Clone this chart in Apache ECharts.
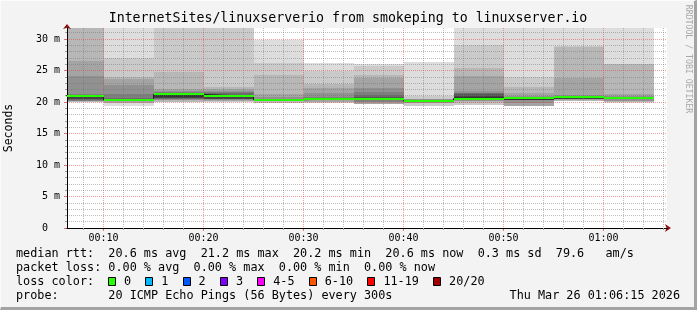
<!DOCTYPE html>
<html>
<head>
<meta charset="utf-8">
<script src="https://cdn.jsdelivr.net/npm/echarts@6.0.0/dist/echarts.min.js"></script>
<style>
html,body{margin:0;padding:0;background:#f3f3f3;}
#wrap{position:relative;width:697px;height:310px;overflow:hidden;}
#chart{position:absolute;left:0;top:0;width:697px;height:310px;}
#frame{position:absolute;left:0;top:0;width:697px;height:310px;box-sizing:border-box;border-right:3px solid #a3a3a3;border-bottom:3px solid #a3a3a3;border-top:1px solid #fbfbfb;border-left:1px solid #fbfbfb;pointer-events:none;}
</style>
</head>
<body>
<div id="wrap"><div id="chart"></div><div id="frame"></div></div>
<script>
// ---------- data ----------
const intervalEnds = ['00:10','00:15','00:20','00:25','00:30','00:35','00:40','00:45','00:50','00:55','01:00','01:05'];
const medianRtt = [21.0, 20.36, 21.2, 20.9, 20.36, 20.55, 20.55, 20.2, 20.55, 20.68, 20.73, 20.6];
const lossPerInterval = [0,0,0,0,0,0,0,0,0,0,0,0];

// 20 sorted ping round-trip times (ms) per 5-minute interval
const pings0010 = [20.04,20.05,20.08,20.2,20.22,20.24,20.25,20.5,20.55,20.85,21.1,21.12,21.15,21.18,21.2,24.2,26.5,33.4,35.8,39.5];
const pings0015 = [19.4,19.82,19.83,19.84,20.2,20.22,20.25,20.27,20.3,20.32,20.4,20.45,20.5,20.6,21.3,22.75,23.65,23.9,27.0,33.8];
const pings0020 = [20.0,20.03,20.05,20.35,20.37,20.54,20.55,20.56,20.57,20.84,21.3,21.38,21.45,21.5,21.6,21.75,22.05,24.7,33.1,36.4];
const pings0025 = [20.03,20.05,20.1,20.2,20.25,20.5,20.51,20.52,20.53,20.73,20.95,21.0,21.05,21.37,21.66,21.68,22.06,22.43,33.6,37.2];
const pings0030 = [19.85,19.87,19.89,20.2,20.21,20.22,20.24,20.26,20.28,20.3,20.42,20.45,20.48,20.5,20.55,20.8,21.24,24.33,26.19,29.78];
const pings0035 = [19.82,19.84,20.04,20.05,20.37,20.39,20.4,20.42,20.44,20.45,20.63,20.66,20.68,20.7,20.75,21.48,22.3,22.86,24.97,26.19];
const pings0040 = [19.7,19.71,19.72,19.73,20.04,20.05,20.3,20.32,20.35,20.4,20.65,20.7,20.8,21.11,21.63,22.2,23.8,24.33,25.76,26.0];
const pings0045 = [19.4,19.41,19.82,19.83,19.84,20.0,20.03,20.05,20.08,20.1,20.25,20.28,20.3,20.33,20.35,20.4,20.45,20.5,20.95,26.35];
const pings0050 = [19.55,19.57,19.89,20.15,20.16,20.3,20.32,20.34,20.36,20.37,20.75,21.0,21.35,21.36,21.37,21.71,24.06,25.4,29.1,33.2];
const pings0055 = [19.38,19.39,19.4,19.41,19.89,20.35,20.36,20.37,20.375,20.38,20.75,20.76,20.78,20.8,20.85,20.9,21.37,22.43,23.94,34.1];
const pings0100 = [20.2,20.22,20.24,20.25,20.4,20.41,20.45,20.5,20.55,20.6,20.8,20.84,20.86,20.88,20.9,21.11,23.81,28.8,28.83,35.3];
const pings0105 = [19.92,19.93,19.94,20.15,20.16,20.4,20.41,20.42,20.43,20.45,20.68,20.7,20.75,20.8,20.85,20.9,21.21,26.06,26.08,34.4];
const pingSets = [pings0010,pings0015,pings0020,pings0025,pings0030,pings0035,pings0040,pings0045,pings0050,pings0055,pings0100,pings0105];

const xTickLabels = ['00:10','00:20','00:30','00:40','00:50','01:00'];
const yTickValues = [0,5,10,15,20,25,30];
const yTickLabels = ['0  ','5 m','10 m','15 m','20 m','25 m','30 m'];

const lossLabels = ['0','1','2','3','4-5','6-10','11-19','20/20'];
const lossColors = ['#26ff00','#00b8ff','#0059ff','#7e00ff','#ff00ff','#ff5500','#ff0000','#a10000'];
const lossUpper  = [0,1,2,3,5,10,19,20];

const titleText = 'InternetSites/linuxserverio from smokeping to linuxserver.io';
const rttLine   = 'median rtt:  20.6 ms avg  21.2 ms max  20.2 ms min  20.6 ms now  0.3 ms sd  79.6   am/s';
const lossLine  = 'packet loss: 0.00 % avg  0.00 % max  0.00 % min  0.00 % now';
const colorLine = 'loss color:';
const probeLine = 'probe:       20 ICMP Echo Pings (56 Bytes) every 300s';
const stampText = 'Thu Mar 26 01:06:15 2026';
const sideText  = 'RRDTOOL / TOBI OETIKER';
const yName     = 'Seconds';

// ---------- helpers ----------
const X_MIN = 6.35, X_MAX = 66.35, Y_MAX = 31.75, STEP_MIN = 5;
const MONO = "'DejaVu Sans Mono', monospace";
function toMin(s){ const p = s.split(':').map(Number); return p[0]*60 + p[1]; }
function lossColorFor(l){ for (let k=0;k<lossUpper.length;k++){ if (l <= lossUpper[k]) return lossColors[k]; } return lossColors[lossColors.length-1]; }

const xMajor = xTickLabels.map(toMin);
const xMinor = []; for (let m = 8; m <= 66; m += 2) if (m % 10) xMinor.push(m);
const yMinor = []; for (let v = 1; v <= 31; v++) if (v % 5) yMinor.push(v);

function clipTo(r, cs){
  return echarts.graphic.clipRectByRect(r, {x:cs.x, y:cs.y, width:cs.width, height:cs.height});
}

function renderSmoke(params, api){
  const t0 = api.value(0), t1 = api.value(1), i = api.value(3);
  const set = pingSets[i];
  const half = set.length / 2;
  const cs = params.coordSys;
  const children = [];
  for (let k = 1; k <= half; k++){
    const lo = set[k-1], hi = set[set.length - k];
    const a = api.coord([t0, lo]), b = api.coord([t1, hi]);
    const x0 = Math.round(a[0]), x1 = Math.round(b[0]);
    const yb = Math.round(a[1]), yt = Math.round(b[1]);
    const r = clipTo({x:x0, y:yt, width:x1-x0, height:Math.max(yb-yt, 0)}, cs);
    if (!r || r.height <= 0) continue;
    const g = Math.floor(190/half*(half-k)) + 50;
    children.push({type:'rect', shape:r, style:{fill:'rgb('+g+','+g+','+g+')'}});
  }
  return {type:'group', children};
}

function renderLossBand(params, api){
  const t0 = api.value(0), t1 = api.value(1), m = api.value(2), i = api.value(3);
  const a = api.coord([t0, m]), b = api.coord([t1, m]);
  const x0 = Math.round(a[0]), x1 = Math.round(b[0]), y = Math.round(a[1]);
  const r = clipTo({x:x0, y:y-1, width:x1-x0, height:2}, params.coordSys);
  if (!r) return null;
  return {type:'rect', shape:r, style:{fill:lossColorFor(lossPerInterval[i])}};
}

const barData = intervalEnds.map((t,i)=>[toMin(t)-STEP_MIN, toMin(t), medianRtt[i], i]);
const medianPts = intervalEnds.map((t,i)=>[toMin(t)-STEP_MIN, medianRtt[i]]);
medianPts.push([toMin(intervalEnds[intervalEnds.length-1]), medianRtt[medianRtt.length-1]]);

const minorGrid = {show:true, lineStyle:{color:'rgba(110,110,110,0.45)', width:1, type:[1,1]}};
const majorGrid = {show:true, lineStyle:{color:'rgba(225,60,60,0.5)', width:1, type:[1,1]}};

// ---------- legend graphics ----------
const LEG = 11.8, CW = LEG*0.602;
const graphics = [
  {type:'text', x:348, y:19, style:{text:titleText, fontSize:13.25, fontFamily:MONO, fill:'#000', align:'center', verticalAlign:'middle'}},
  {type:'text', x:688, y:59, rotation:-Math.PI/2, style:{text:sideText, fontSize:8.2, fontFamily:MONO, fill:'#a8a8a8', align:'center', verticalAlign:'middle'}},
  {type:'text', x:16, y:254, style:{text:rttLine, fontSize:LEG, fontFamily:MONO, fill:'#000', verticalAlign:'middle'}},
  {type:'text', x:16, y:268, style:{text:lossLine, fontSize:LEG, fontFamily:MONO, fill:'#000', verticalAlign:'middle'}},
  {type:'text', x:16, y:282, style:{text:colorLine, fontSize:LEG, fontFamily:MONO, fill:'#000', verticalAlign:'middle'}},
  {type:'text', x:16, y:296, style:{text:probeLine, fontSize:LEG, fontFamily:MONO, fill:'#000', verticalAlign:'middle'}},
  {type:'text', x:680, y:296, style:{text:stampText, fontSize:LEG, fontFamily:MONO, fill:'#000', align:'right', verticalAlign:'middle'}}
];
let bx = 108;
lossLabels.forEach((lab,k)=>{
  graphics.push({type:'rect', shape:{x:Math.round(bx)+0.5, y:277.5, width:7, height:8}, style:{fill:lossColors[k], stroke:'#000', lineWidth:1}});
  graphics.push({type:'text', x:bx+16, y:282, style:{text:lab, fontSize:LEG, fontFamily:MONO, fill:'#000', verticalAlign:'middle'}});
  bx += 16 + CW*(lab.length + 2);
});

// ---------- chart ----------
const chart = echarts.init(document.getElementById('chart'), null, {renderer:'canvas'});
chart.setOption({
  animation:false,
  backgroundColor:'#f3f3f3',
  textStyle:{fontFamily:MONO},
  grid:{left:67, top:28, width:600, height:200, containLabel:false, outerBoundsMode:'none', show:true, backgroundColor:'#ffffff', borderWidth:0},
  xAxis:[
    {type:'value', min:X_MIN, max:X_MAX, position:'bottom', z:3,
     axisLine:{show:true, onZero:false, lineStyle:{color:'#000', width:1}},
     axisTick:{show:true, customValues:xMinor, length:2, lineStyle:{color:'#a0a0a0'}},
     axisLabel:{show:false},
     splitLine:minorGrid},
    {type:'value', min:X_MIN, max:X_MAX, position:'bottom', z:2,
     axisLine:{show:true, onZero:false, symbol:['none','arrow'], symbolSize:[6,6], symbolOffset:[0,4], lineStyle:{color:'#8a1010', width:1}},
     axisTick:{show:true, customValues:xMajor, length:3, lineStyle:{color:'#e07070'}},
     axisLabel:{show:true, customValues:xMajor, formatter:(v)=>xTickLabels[xMajor.indexOf(v)], color:'#000', fontSize:10, fontFamily:MONO, margin:5},
     splitLine:majorGrid}
  ],
  yAxis:[
    {type:'value', min:0, max:Y_MAX, position:'left', z:3,
     axisLine:{show:true, onZero:false, lineStyle:{color:'#000', width:1}},
     axisTick:{show:true, customValues:yMinor, length:2, lineStyle:{color:'#a0a0a0'}},
     axisLabel:{show:false},
     splitLine:minorGrid},
    {type:'value', min:0, max:Y_MAX, position:'left', z:2,
     name:yName, nameLocation:'middle', nameRotate:90, nameGap:52,
     nameTextStyle:{fontSize:11.5, fontFamily:MONO, color:'#000'},
     axisLine:{show:true, onZero:false, symbol:['none','arrow'], symbolSize:[6,5], symbolOffset:[0,4], lineStyle:{color:'#8a1010', width:1}},
     axisTick:{show:true, customValues:yTickValues, length:3, lineStyle:{color:'#e07070'}},
     axisLabel:{show:true, customValues:yTickValues, formatter:(v)=>yTickLabels[yTickValues.indexOf(v)], color:'#000', fontSize:10, fontFamily:MONO, margin:7},
     splitLine:majorGrid}
  ],
  graphic:graphics,
  series:[
    {type:'custom', name:'smoke', z:1, xAxisIndex:0, yAxisIndex:0, silent:true,
     renderItem:renderSmoke, data:barData, encode:{x:[0,1], y:2}},
    {type:'line', name:'median', z:4, xAxisIndex:0, yAxisIndex:0, silent:true,
     step:'end', symbol:'none', data:medianPts, lineStyle:{color:'#202020', width:1}},
    {type:'custom', name:'loss', z:5, xAxisIndex:0, yAxisIndex:0, silent:true,
     renderItem:renderLossBand, data:barData, encode:{x:[0,1], y:2}}
  ]
});
</script>
</body>
</html>
